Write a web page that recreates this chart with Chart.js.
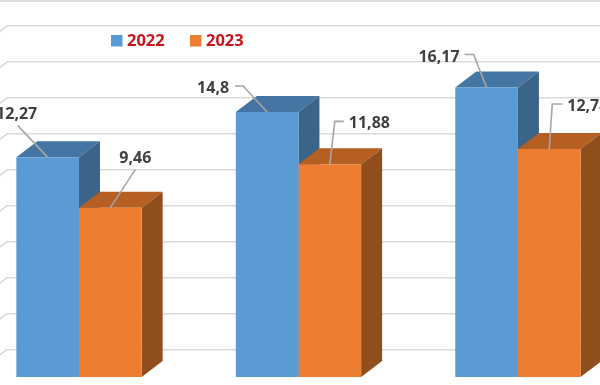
<!DOCTYPE html>
<html>
<head>
<meta charset="utf-8">
<style>
html,body{margin:0;padding:0;background:#fff;overflow:hidden}
#wrap{position:relative;width:600px;height:385px}
canvas{filter:blur(0.4px)}
</style>
<script src="https://cdn.jsdelivr.net/npm/chart.js@4"></script>
</head>
<body>
<div id="wrap"><canvas id="c" width="600" height="385"></canvas></div>
<script>
// Data
const groupPositions = [0, 1, 2];
const series2022 = [12.27, 14.8, 16.17];
const series2023 = [9.46, 11.88, 12.74];
const seriesNames = ['2022', '2023'];
const gridValues = [1.54, 3.55, 5.55, 7.56, 9.57, 11.57, 13.58, 15.59, 17.59, 19.6];

// Style
const FRONT = ['#5b9bd5', '#ed7d31'];
const TOP = ['#4475a3', '#b55f22'];
const SIDE = ['#3a6488', '#8f4e1c'];
const GRID = '#d9d9d9';
const DEPTH_X = 21, DEPTH_Y = 16;
const WALL_LEFT = 7;
// Label layout relative to each bar's top centre: text anchor, and the bend of the leader line
const labelLayout = [
  [{tx:-31, ty:-43, align:'center', lead:[[-30,-32]]},
   {tx:-38, ty:-24, align:'right',  lead:[[-32,-26],[-24,-26]]},
   {tx:-27, ty:-30, align:'right',  lead:[[-22,-33],[-13,-33]]}],
  [{tx:25,  ty:-49, align:'center', lead:[[25,-38]]},
   {tx:19,  ty:-41, align:'left',   lead:[[14,-43],[5,-43]]},
   {tx:18,  ty:-43, align:'left',   lead:[[13,-45],[3,-45]]}]
];
const legendStart = [111, 190];
const LEGEND_Y = 34;

const fmt = v => String(v).replace('.', ',');

const bars3d = {
  id: 'bars3d',
  beforeDraw(chart) {
    const {ctx} = chart;
    ctx.save();
    ctx.fillStyle = '#dedede';
    ctx.fillRect(0, 0, chart.width, 2);
    const y = chart.scales.y;
    ctx.strokeStyle = GRID;
    ctx.lineWidth = 1.6;
    y.ticks.forEach(t => {
      const py = y.getPixelForValue(t.value);
      ctx.beginPath();
      ctx.moveTo(WALL_LEFT, py);
      ctx.lineTo(WALL_LEFT - DEPTH_X, py + DEPTH_Y);
      ctx.stroke();
    });
    ctx.restore();
  },
  beforeDatasetsDraw(chart) {
    const {ctx} = chart;
    ctx.save();
    chart.data.datasets.forEach((ds, di) => {
      chart.getDatasetMeta(di).data.forEach(bar => {
        const {x, y, base, width} = bar.getProps(['x', 'y', 'base', 'width'], true);
        const l = x - width / 2, r = x + width / 2;
        ctx.fillStyle = TOP[di];
        ctx.beginPath();
        ctx.moveTo(l, y);
        ctx.lineTo(l + DEPTH_X, y - DEPTH_Y);
        ctx.lineTo(r + DEPTH_X, y - DEPTH_Y);
        ctx.lineTo(r, y);
        ctx.closePath();
        ctx.fill();
        ctx.fillStyle = SIDE[di];
        ctx.beginPath();
        ctx.moveTo(r, y);
        ctx.lineTo(r + DEPTH_X, y - DEPTH_Y);
        ctx.lineTo(r + DEPTH_X, base - DEPTH_Y);
        ctx.lineTo(r, base);
        ctx.closePath();
        ctx.fill();
      });
    });
    ctx.restore();
  },
  afterDatasetsDraw(chart) {
    const {ctx} = chart;
    ctx.save();
    chart.data.datasets.forEach((ds, di) => {
      chart.getDatasetMeta(di).data.forEach((bar, i) => {
        const {x, y} = bar.getProps(['x', 'y'], true);
        const L = labelLayout[di][i];
        ctx.strokeStyle = '#a6a6a6';
        ctx.lineWidth = 1.6;
        ctx.beginPath();
        ctx.moveTo(x, y);
        L.lead.slice().reverse().forEach(p => ctx.lineTo(x + p[0], y + p[1]));
        ctx.stroke();
        ctx.fillStyle = '#404040';
        ctx.font = 'bold 16px "Open Sans"';
        ctx.textAlign = L.align;
        ctx.textBaseline = 'middle';
        ctx.fillText(fmt(ds.data[i].y), x + L.tx, y + L.ty);
      });
      // legend entry
      const lx = legendStart[di];
      ctx.fillStyle = FRONT[di];
      ctx.fillRect(lx, LEGEND_Y + 1, 11.5, 11.5);
      ctx.fillStyle = '#c8141c';
      ctx.font = 'bold 16.5px "Open Sans"';
      ctx.textAlign = 'left';
      ctx.textBaseline = 'middle';
      ctx.fillText(ds.label, lx + 16, LEGEND_Y + 7);
    });
    ctx.restore();
  }
};

const toPoints = vals => vals.map((v, i) => ({x: groupPositions[i], y: v}));

new Chart(document.getElementById('c'), {
  type: 'bar',
  data: {
    datasets: [
      {label: seriesNames[0], data: toPoints(series2022), backgroundColor: FRONT[0]},
      {label: seriesNames[1], data: toPoints(series2023), backgroundColor: FRONT[1]}
    ]
  },
  plugins: [bars3d],
  options: {
    responsive: false,
    animation: false,
    layout: {padding: {left: WALL_LEFT, right: 0, top: 0, bottom: 0}},
    datasets: {bar: {barPercentage: 1, categoryPercentage: 0.571, borderWidth: 0, clip: false}},
    scales: {
      x: {
        type: 'linear', display: false, min: -0.328, max: 2.374, offset: false,
        afterBuildTicks: s => { s.ticks = groupPositions.map(value => ({value})); }
      },
      y: {
        min: -0.447, max: 21.06,
        afterBuildTicks: s => { s.ticks = gridValues.map(value => ({value})); },
        ticks: {display: false, autoSkip: false},
        grid: {color: GRID, lineWidth: 1.6, drawTicks: false},
        border: {display: false}
      }
    },
    plugins: {
      tooltip: {enabled: false},
      legend: {display: false}
    }
  }
});
</script>
</body>
</html>
